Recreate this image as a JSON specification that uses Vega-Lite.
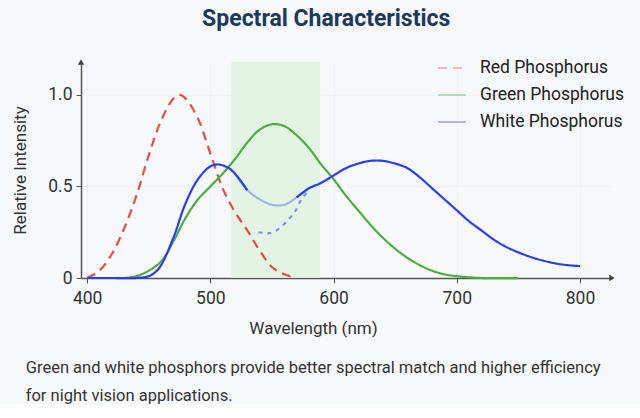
{
  "$schema": "https://vega.github.io/schema/vega-lite/v6.json",
  "background": "#f7f8fa",
  "padding": {"left": 11, "top": 8, "right": 24, "bottom": 0},
  "config": {
    "font": "Roboto",
    "view": {"stroke": null},
    "concat": {"spacing": 0}
  },
  "title": {
    "text": [
      "Green and white phosphors provide better spectral match and higher efficiency",
      "for night vision applications."
    ],
    "orient": "bottom",
    "anchor": "start",
    "frame": "bounds",
    "font": "Roboto",
    "fontSize": 16.5,
    "fontWeight": "normal",
    "color": "#333333",
    "lineHeight": 28,
    "offset": 23,
    "dx": 14
  },
  "datasets": {
    "spectra": [
      {"wavelength": 400, "series": "Red Phosphorus", "intensity": 0.0},
      {"wavelength": 410, "series": "Red Phosphorus", "intensity": 0.04},
      {"wavelength": 420, "series": "Red Phosphorus", "intensity": 0.13},
      {"wavelength": 430, "series": "Red Phosphorus", "intensity": 0.27},
      {"wavelength": 440, "series": "Red Phosphorus", "intensity": 0.45},
      {"wavelength": 450, "series": "Red Phosphorus", "intensity": 0.67},
      {"wavelength": 460, "series": "Red Phosphorus", "intensity": 0.86},
      {"wavelength": 470, "series": "Red Phosphorus", "intensity": 0.98},
      {"wavelength": 475, "series": "Red Phosphorus", "intensity": 1.0},
      {"wavelength": 480, "series": "Red Phosphorus", "intensity": 0.98},
      {"wavelength": 490, "series": "Red Phosphorus", "intensity": 0.87},
      {"wavelength": 500, "series": "Red Phosphorus", "intensity": 0.68},
      {"wavelength": 510, "series": "Red Phosphorus", "intensity": 0.49},
      {"wavelength": 520, "series": "Red Phosphorus", "intensity": 0.36},
      {"wavelength": 530, "series": "Red Phosphorus", "intensity": 0.26},
      {"wavelength": 540, "series": "Red Phosphorus", "intensity": 0.15},
      {"wavelength": 550, "series": "Red Phosphorus", "intensity": 0.06},
      {"wavelength": 560, "series": "Red Phosphorus", "intensity": 0.02},
      {"wavelength": 570, "series": "Red Phosphorus", "intensity": 0.0},

      {"wavelength": 430, "series": "Green Phosphorus", "intensity": 0.0},
      {"wavelength": 440, "series": "Green Phosphorus", "intensity": 0.01},
      {"wavelength": 450, "series": "Green Phosphorus", "intensity": 0.04},
      {"wavelength": 460, "series": "Green Phosphorus", "intensity": 0.09},
      {"wavelength": 470, "series": "Green Phosphorus", "intensity": 0.2},
      {"wavelength": 480, "series": "Green Phosphorus", "intensity": 0.33},
      {"wavelength": 490, "series": "Green Phosphorus", "intensity": 0.43},
      {"wavelength": 500, "series": "Green Phosphorus", "intensity": 0.5},
      {"wavelength": 510, "series": "Green Phosphorus", "intensity": 0.57},
      {"wavelength": 520, "series": "Green Phosphorus", "intensity": 0.65},
      {"wavelength": 530, "series": "Green Phosphorus", "intensity": 0.74},
      {"wavelength": 540, "series": "Green Phosphorus", "intensity": 0.81},
      {"wavelength": 550, "series": "Green Phosphorus", "intensity": 0.84},
      {"wavelength": 560, "series": "Green Phosphorus", "intensity": 0.83},
      {"wavelength": 570, "series": "Green Phosphorus", "intensity": 0.78},
      {"wavelength": 580, "series": "Green Phosphorus", "intensity": 0.71},
      {"wavelength": 590, "series": "Green Phosphorus", "intensity": 0.62},
      {"wavelength": 600, "series": "Green Phosphorus", "intensity": 0.54},
      {"wavelength": 610, "series": "Green Phosphorus", "intensity": 0.45},
      {"wavelength": 620, "series": "Green Phosphorus", "intensity": 0.37},
      {"wavelength": 630, "series": "Green Phosphorus", "intensity": 0.29},
      {"wavelength": 640, "series": "Green Phosphorus", "intensity": 0.22},
      {"wavelength": 650, "series": "Green Phosphorus", "intensity": 0.16},
      {"wavelength": 660, "series": "Green Phosphorus", "intensity": 0.11},
      {"wavelength": 670, "series": "Green Phosphorus", "intensity": 0.07},
      {"wavelength": 680, "series": "Green Phosphorus", "intensity": 0.04},
      {"wavelength": 690, "series": "Green Phosphorus", "intensity": 0.02},
      {"wavelength": 700, "series": "Green Phosphorus", "intensity": 0.01},
      {"wavelength": 720, "series": "Green Phosphorus", "intensity": 0.0},
      {"wavelength": 750, "series": "Green Phosphorus", "intensity": 0.0},

      {"wavelength": 400, "series": "White Phosphorus", "intensity": 0.0},
      {"wavelength": 420, "series": "White Phosphorus", "intensity": 0.0},
      {"wavelength": 440, "series": "White Phosphorus", "intensity": 0.0},
      {"wavelength": 450, "series": "White Phosphorus", "intensity": 0.01},
      {"wavelength": 455, "series": "White Phosphorus", "intensity": 0.03},
      {"wavelength": 460, "series": "White Phosphorus", "intensity": 0.07},
      {"wavelength": 470, "series": "White Phosphorus", "intensity": 0.22},
      {"wavelength": 480, "series": "White Phosphorus", "intensity": 0.41},
      {"wavelength": 490, "series": "White Phosphorus", "intensity": 0.54},
      {"wavelength": 500, "series": "White Phosphorus", "intensity": 0.61},
      {"wavelength": 507, "series": "White Phosphorus", "intensity": 0.62},
      {"wavelength": 515, "series": "White Phosphorus", "intensity": 0.6},
      {"wavelength": 520, "series": "White Phosphorus", "intensity": 0.57},
      {"wavelength": 530, "series": "White Phosphorus", "intensity": 0.48},
      {"wavelength": 540, "series": "White Phosphorus", "intensity": 0.43},
      {"wavelength": 550, "series": "White Phosphorus", "intensity": 0.4},
      {"wavelength": 560, "series": "White Phosphorus", "intensity": 0.4},
      {"wavelength": 570, "series": "White Phosphorus", "intensity": 0.44},
      {"wavelength": 580, "series": "White Phosphorus", "intensity": 0.49},
      {"wavelength": 590, "series": "White Phosphorus", "intensity": 0.52},
      {"wavelength": 600, "series": "White Phosphorus", "intensity": 0.56},
      {"wavelength": 610, "series": "White Phosphorus", "intensity": 0.6},
      {"wavelength": 620, "series": "White Phosphorus", "intensity": 0.625},
      {"wavelength": 630, "series": "White Phosphorus", "intensity": 0.64},
      {"wavelength": 640, "series": "White Phosphorus", "intensity": 0.64},
      {"wavelength": 650, "series": "White Phosphorus", "intensity": 0.625},
      {"wavelength": 660, "series": "White Phosphorus", "intensity": 0.6},
      {"wavelength": 670, "series": "White Phosphorus", "intensity": 0.55},
      {"wavelength": 680, "series": "White Phosphorus", "intensity": 0.49},
      {"wavelength": 690, "series": "White Phosphorus", "intensity": 0.43},
      {"wavelength": 700, "series": "White Phosphorus", "intensity": 0.37},
      {"wavelength": 710, "series": "White Phosphorus", "intensity": 0.31},
      {"wavelength": 720, "series": "White Phosphorus", "intensity": 0.26},
      {"wavelength": 730, "series": "White Phosphorus", "intensity": 0.21},
      {"wavelength": 740, "series": "White Phosphorus", "intensity": 0.17},
      {"wavelength": 750, "series": "White Phosphorus", "intensity": 0.14},
      {"wavelength": 760, "series": "White Phosphorus", "intensity": 0.115},
      {"wavelength": 770, "series": "White Phosphorus", "intensity": 0.095},
      {"wavelength": 780, "series": "White Phosphorus", "intensity": 0.08},
      {"wavelength": 790, "series": "White Phosphorus", "intensity": 0.07},
      {"wavelength": 800, "series": "White Phosphorus", "intensity": 0.065}
    ],
    "whiteOverlap": [
      {"wavelength": 539, "intensity": 0.25},
      {"wavelength": 544, "intensity": 0.245},
      {"wavelength": 548, "intensity": 0.245},
      {"wavelength": 552, "intensity": 0.255},
      {"wavelength": 556, "intensity": 0.27},
      {"wavelength": 562, "intensity": 0.31},
      {"wavelength": 568, "intensity": 0.355},
      {"wavelength": 574, "intensity": 0.43},
      {"wavelength": 580, "intensity": 0.48}
    ],
    "band": [
      {"start": 517, "end": 589, "low": 0, "high": 1.18}
    ],
    "arrows": [
      {"wavelength": 826, "intensity": 0, "shape": "triangle-right"},
      {"wavelength": 395, "intensity": 1.18, "shape": "triangle-up"}
    ]
  },
  "vconcat": [
    {
      "title": {
        "text": "Spectral Characteristics",
        "anchor": "middle",
        "frame": "bounds",
        "font": "Roboto",
        "fontSize": 23,
        "fontWeight": "bold",
        "color": "#1c3a5e",
        "offset": 28,
        "dx": 13
      },
      "width": 531,
      "height": 216,
      "layer": [
        {
          "data": {"name": "band"},
          "mark": {"type": "rect", "color": "#dff3df", "opacity": 0.8},
          "encoding": {
            "x": {"field": "start", "type": "quantitative"},
            "x2": {"field": "end"},
            "y": {"field": "low", "type": "quantitative"},
            "y2": {"field": "high"}
          }
        },
        {
          "data": {"name": "spectra"},
          "transform": [
            {"filter": "datum.series !== 'White Phosphorus' || datum.wavelength <= 530"}
          ],
          "mark": {"type": "line", "interpolate": "catmull-rom", "strokeWidth": 2.2},
          "encoding": {
            "x": {
              "field": "wavelength",
              "type": "quantitative",
              "scale": {"domain": [395, 826], "nice": false, "zero": false},
              "axis": {
                "title": "Wavelength (nm)",
                "values": [400, 500, 600, 700, 800],
                "grid": true,
                "gridColor": "#e9ebee",
                "gridOpacity": 0.5,
                "domainColor": "#555555",
                "domainWidth": 1.5,
                "tickColor": "#555555",
                "tickSize": 5,
                "labelFont": "Roboto",
                "labelFontSize": 17.5,
                "labelColor": "#333333",
                "labelPadding": 6,
                "titleFont": "Roboto",
                "titleFontSize": 17,
                "titleFontWeight": "normal",
                "titleColor": "#333333",
                "titlePadding": 14,
                "titleX": 232
              }
            },
            "y": {
              "field": "intensity",
              "type": "quantitative",
              "scale": {"domain": [0, 1.18], "nice": false},
              "axis": {
                "title": "Relative Intensity",
                "values": [0, 0.5, 1],
                "labelExpr": "datum.value === 0 ? '0' : format(datum.value, '.1f')",
                "grid": true,
                "gridColor": "#e9ebee",
                "gridOpacity": 0.5,
                "domainColor": "#555555",
                "domainWidth": 1.5,
                "tickColor": "#555555",
                "tickSize": 5,
                "labelFont": "Roboto",
                "labelFontSize": 17.5,
                "labelColor": "#333333",
                "labelPadding": 4,
                "titleFont": "Roboto",
                "titleFontSize": 17,
                "titleFontWeight": "normal",
                "titleColor": "#333333",
                "titlePadding": 18
              }
            },
            "color": {
              "field": "series",
              "type": "nominal",
              "scale": {
                "domain": ["Red Phosphorus", "Green Phosphorus", "White Phosphorus"],
                "range": ["#e84a4a", "#4cad3c", "#2b3cf2"]
              },
              "legend": {
                "title": null,
                "orient": "none",
                "legendX": 356,
                "legendY": -9,
                "symbolType": "stroke",
                "symbolSize": 784,
                "symbolStrokeWidth": 2,
                "labelFont": "Roboto",
                "labelFontSize": 17.5,
                "labelColor": "#222222",
                "labelOffset": 13,
                "rowPadding": 3,
                "padding": 0
              }
            },
            "strokeDash": {
              "field": "series",
              "type": "nominal",
              "scale": {
                "domain": ["Red Phosphorus", "Green Phosphorus", "White Phosphorus"],
                "range": [[9, 6], [1, 0], [1, 0]]
              },
              "legend": {
                "title": null,
                "orient": "none",
                "legendX": 356,
                "legendY": -9,
                "symbolType": "stroke",
                "symbolSize": 784,
                "symbolStrokeWidth": 2,
                "labelFont": "Roboto",
                "labelFontSize": 17.5,
                "labelColor": "#222222",
                "labelOffset": 13,
                "rowPadding": 3,
                "padding": 0
              }
            }
          }
        },
        {
          "data": {"name": "spectra"},
          "transform": [
            {"filter": "datum.series === 'White Phosphorus' && datum.wavelength >= 520 && datum.wavelength <= 580"}
          ],
          "mark": {"type": "line", "interpolate": "catmull-rom", "strokeWidth": 2.2, "opacity": 0.35},
          "encoding": {
            "x": {"field": "wavelength", "type": "quantitative"},
            "y": {"field": "intensity", "type": "quantitative"},
            "color": {"field": "series", "type": "nominal"},
            "strokeDash": {"field": "series", "type": "nominal"}
          }
        },
        {
          "data": {"name": "spectra"},
          "transform": [
            {"filter": "datum.series === 'White Phosphorus' && datum.wavelength >= 570"}
          ],
          "mark": {"type": "line", "interpolate": "catmull-rom", "strokeWidth": 2.2},
          "encoding": {
            "x": {"field": "wavelength", "type": "quantitative"},
            "y": {"field": "intensity", "type": "quantitative"},
            "color": {"field": "series", "type": "nominal"},
            "strokeDash": {"field": "series", "type": "nominal"}
          }
        },
        {
          "data": {"name": "whiteOverlap"},
          "mark": {"type": "line", "interpolate": "catmull-rom", "strokeWidth": 2.2, "color": "#2b3cf2", "opacity": 0.55, "strokeDash": [4, 5]},
          "encoding": {
            "x": {"field": "wavelength", "type": "quantitative"},
            "y": {"field": "intensity", "type": "quantitative"}
          }
        },
        {
          "data": {"name": "arrows"},
          "mark": {"type": "point", "filled": true, "color": "#444444", "size": 40, "opacity": 1, "clip": false},
          "encoding": {
            "x": {"field": "wavelength", "type": "quantitative"},
            "y": {"field": "intensity", "type": "quantitative"},
            "shape": {"field": "shape", "type": "nominal", "scale": null, "legend": null}
          }
        }
      ]
    }
  ]
}
